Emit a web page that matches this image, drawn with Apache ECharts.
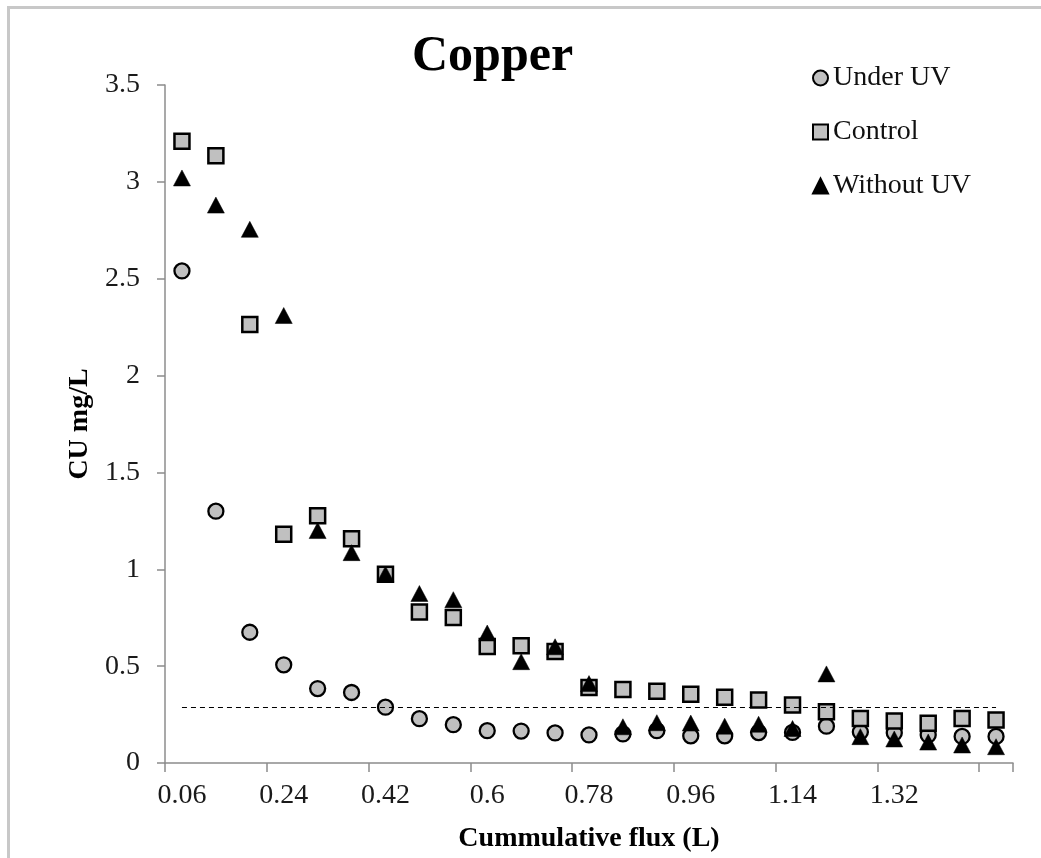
<!DOCTYPE html>
<html>
<head>
<meta charset="utf-8">
<title>Copper</title>
<script src="https://cdn.jsdelivr.net/npm/echarts@6/dist/echarts.min.js"></script>
<style>
  html, body { margin: 0; padding: 0; background: #fff; }
  #chart { width: 1041px; height: 858px; }
</style>
</head>
<body>
<div id="chart"></div>
<script>
// Cumulative flux (L) at each sampling point
const flux = ['0.06', '0.12', '0.18', '0.24', '0.3', '0.36', '0.42', '0.48', '0.54', '0.6',
  '0.66', '0.72', '0.78', '0.84', '0.9', '0.96', '1.02', '1.08', '1.14', '1.2',
  '1.26', '1.32', '1.38', '1.44', '1.5'];

// Copper concentration (mg/L)
const underUV = [2.54, 1.30, 0.675, 0.507, 0.384, 0.364, 0.288, 0.229, 0.198, 0.167,
  0.165, 0.155, 0.145, 0.15, 0.167, 0.14, 0.14, 0.157, 0.158, 0.19,
  0.16, 0.155, 0.145, 0.137, 0.137];
const control = [3.21, 3.135, 2.263, 1.181, 1.277, 1.158, 0.974, 0.779, 0.751, 0.602,
  0.605, 0.575, 0.39, 0.38, 0.37, 0.355, 0.34, 0.325, 0.30, 0.265,
  0.23, 0.217, 0.205, 0.23, 0.222];
const withoutUV = [3.02, 2.88, 2.755, 2.31, 1.20, 1.086, 0.975, 0.875, 0.843, 0.671,
  0.523, 0.60, 0.41, 0.187, 0.208, 0.206, 0.19, 0.20, 0.178, 0.46,
  0.136, 0.124, 0.108, 0.093, 0.084];

// Reference limit drawn as a dashed line
const limitValue = 0.29;

const yTicks = { min: 0, max: 3.5, step: 0.5 };

const serif = "'Liberation Serif', 'Times New Roman', serif";
const axisGray = '#8c8c8c';
const markerGray = '#c0c0c0';

const chart = echarts.init(document.getElementById('chart'), null, { renderer: 'canvas' });

chart.setOption({
  backgroundColor: '#ffffff',
  animation: false,
  graphic: [{
    type: 'rect',
    shape: { x: 8.5, y: 7.5, width: 1100, height: 1000 },
    style: { fill: 'none', stroke: '#c8c8c8', lineWidth: 3 },
    silent: true,
    z: -10
  }],
  title: {
    text: 'Copper',
    left: 412,
    top: 32,
    padding: 0,
    textStyle: { fontFamily: serif, fontSize: 50, fontWeight: 'bold', color: '#000' }
  },
  legend: {
    orient: 'vertical',
    left: 812,
    top: 64,
    padding: 0,
    itemWidth: 15,
    itemHeight: 15,
    itemGap: 26,
    textStyle: { fontFamily: serif, fontSize: 28, lineHeight: 28, color: '#111' },
    data: [
      { name: 'Under UV', icon: 'circle' },
      { name: 'Control', icon: 'rect' },
      { name: 'Without UV', icon: 'triangle' }
    ]
  },
  grid: { left: 165, right: 28, top: 85, bottom: 95 },
  xAxis: {
    type: 'category',
    data: flux,
    boundaryGap: true,
    name: 'Cummulative flux (L)',
    nameLocation: 'middle',
    nameGap: 62,
    nameTextStyle: { fontFamily: serif, fontSize: 28, fontWeight: 'bold', color: '#000' },
    axisLine: { lineStyle: { color: axisGray, width: 1.5 } },
    axisTick: { show: true, interval: 2, length: 9, lineStyle: { color: axisGray, width: 1.5 } },
    axisLabel: {
      interval: 2,
      showMaxLabel: false,
      margin: 19,
      fontFamily: serif,
      fontSize: 28,
      color: '#1a1a1a'
    },
    splitLine: { show: false }
  },
  yAxis: {
    type: 'value',
    min: yTicks.min,
    max: yTicks.max,
    interval: yTicks.step,
    name: 'CU mg/L',
    nameLocation: 'middle',
    nameGap: 71,
    nameTextStyle: { fontFamily: serif, fontSize: 28, fontWeight: 'bold', color: '#000' },
    axisLine: { show: true, lineStyle: { color: axisGray, width: 1.5 } },
    axisTick: { show: true, length: 8, lineStyle: { color: axisGray, width: 1.5 } },
    axisLabel: { margin: 25, fontFamily: serif, fontSize: 28, color: '#1a1a1a' },
    splitLine: { show: false }
  },
  series: [
    {
      name: 'Under UV',
      type: 'scatter',
      symbol: 'circle',
      symbolSize: 15,
      data: underUV,
      itemStyle: { color: markerGray, borderColor: '#000', borderWidth: 2.3, opacity: 1 },
      z: 2
    },
    {
      name: 'Control',
      type: 'scatter',
      symbol: 'rect',
      symbolSize: 15,
      data: control,
      itemStyle: { color: markerGray, borderColor: '#000', borderWidth: 2.5, opacity: 1 },
      z: 3
    },
    {
      name: 'Without UV',
      type: 'scatter',
      symbol: 'triangle',
      symbolSize: [17, 16],
      data: withoutUV,
      itemStyle: { color: '#000', borderColor: '#000', borderWidth: 0.5, opacity: 1 },
      z: 4,
      markLine: {
        silent: true,
        symbol: ['none', 'none'],
        label: { show: false },
        lineStyle: { color: '#000', type: [5, 4], width: 1.2 },
        data: [[
          { coord: [flux[0], limitValue] },
          { coord: [flux[flux.length - 1], limitValue] }
        ]]
      }
    }
  ]
});
</script>
</body>
</html>
